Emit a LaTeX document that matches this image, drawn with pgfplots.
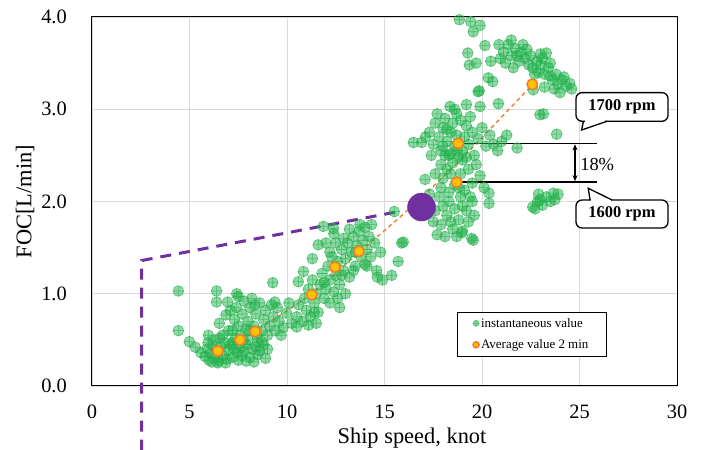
\documentclass[border=0pt]{standalone}
\usepackage{pgfplots}
\pgfplotsset{compat=1.18}
\usepackage{pgfplotstable}
\usepackage{fontspec}
\setmainfont{Liberation Serif}
\usetikzlibrary{arrows.meta}
\definecolor{ggreen}{RGB}{34,177,76}
\definecolor{gorange}{RGB}{237,125,49}
\definecolor{ggold}{RGB}{255,192,0}
\definecolor{gpurple}{RGB}{112,48,160}
\definecolor{ggrid}{RGB}{217,217,217}

\pgfplotstableread{
x y
4.43 1.03
4.43 0.60
4.99 0.48
5.30 0.42
5.59 0.36
5.97 0.55
6.39 1.03
6.39 0.91
6.96 0.91
7.42 1.00
6.53 0.68
6.87 0.77
9.27 1.12
10.24 0.68
9.98 0.79
10.10 0.90
9.38 0.91
10.58 1.13
5.80 0.32
5.90 0.40
6.00 0.28
6.10 0.35
6.20 0.44
6.30 0.30
6.40 0.38
6.50 0.27
6.60 0.42
6.70 0.33
6.80 0.47
6.90 0.29
7.00 0.38
7.10 0.45
7.20 0.31
6.25 0.50
6.55 0.52
5.95 0.47
7.30 0.40
6.45 0.25
6.85 0.25
7.50 0.28
7.70 0.33
7.90 0.27
8.10 0.31
8.30 0.26
8.50 0.34
8.20 0.40
7.60 0.42
7.35 0.52
7.20 0.60
7.30 0.72
7.40 0.85
7.50 0.65
7.60 0.55
7.70 0.78
7.80 0.92
7.90 0.62
8.00 0.50
8.00 0.70
8.10 0.85
8.20 0.95
8.30 0.65
8.40 0.78
8.50 0.48
8.60 0.90
8.70 0.60
8.80 0.72
8.90 0.82
9.00 0.55
7.50 0.97
7.90 0.45
8.60 0.38
8.80 0.45
9.10 0.65
9.30 0.75
9.40 0.60
9.60 0.70
9.20 0.88
9.50 0.85
9.70 0.55
9.00 0.40
8.90 0.30
7.00 0.60
7.10 0.82
8.35 0.88
9.80 0.63
7.75 0.50
8.45 0.55
8.05 0.60
7.45 0.36
6.15 0.26
7.80 0.38
8.40 0.42
7.20 0.47
6.70 0.55
8.70 0.48
10.50 0.75
10.60 0.88
10.80 0.70
10.90 0.95
11.00 0.82
11.10 1.05
11.20 0.75
11.30 1.15
11.40 0.90
11.50 1.00
11.60 0.80
11.70 1.10
11.80 1.22
11.90 0.95
12.00 1.05
12.10 1.30
12.20 1.15
12.30 1.40
12.40 1.02
12.50 1.20
12.60 1.35
12.70 1.10
12.80 1.48
12.90 1.25
13.00 1.38
13.10 1.55
13.20 1.18
13.30 1.45
13.40 1.62
13.50 1.30
13.60 1.52
13.70 1.68
13.80 1.40
13.90 1.58
14.00 1.32
14.10 1.48
14.20 1.62
14.30 1.40
14.50 1.55
14.60 1.25
14.80 1.45
14.90 1.15
12.00 1.55
12.40 1.65
11.86 1.73
12.38 1.71
13.74 1.75
14.34 1.75
11.60 1.53
10.84 1.24
11.10 0.66
10.50 0.64
14.63 1.18
15.37 1.20
15.70 1.35
15.88 1.55
11.50 0.68
12.70 0.85
13.00 1.00
12.20 0.90
12.90 1.60
13.20 1.70
14.00 1.72
11.30 1.38
12.60 0.95
12.20 1.45
12.80 1.20
13.40 1.25
13.50 1.45
11.90 1.12
11.40 0.80
12.50 1.55
14.10 1.30
17.30 2.75
17.50 2.62
17.60 2.85
17.80 2.70
17.90 2.55
18.00 2.80
18.10 2.90
18.20 2.65
18.30 2.50
18.40 2.75
18.50 2.85
18.60 2.60
18.70 2.72
18.90 2.88
19.00 2.55
19.10 2.70
19.20 2.82
19.30 2.62
19.50 2.75
19.60 2.50
19.80 2.68
20.00 2.80
20.20 2.60
20.40 2.72
18.80 2.48
17.70 2.95
19.40 2.92
20.60 2.62
21.00 2.65
21.27 2.72
21.80 2.58
16.48 2.64
16.90 2.64
17.10 2.70
20.80 2.55
17.90 2.40
18.00 2.25
18.20 2.35
18.30 2.10
18.50 2.42
18.60 2.18
18.90 2.30
19.00 2.45
19.10 2.12
19.30 2.35
19.50 2.20
19.70 2.40
19.90 2.28
18.40 2.52
17.08 2.24
17.60 2.30
20.10 2.15
17.60 1.90
17.80 2.05
17.90 1.75
18.00 1.95
18.20 1.85
18.30 2.00
18.50 1.70
18.60 1.92
18.80 1.80
18.90 2.05
19.00 1.68
19.20 1.90
19.30 1.78
19.50 2.00
19.60 1.85
17.50 1.78
17.70 1.64
18.10 1.62
18.96 1.66
19.47 1.60
19.55 1.58
20.36 2.09
20.36 1.98
15.50 1.89
15.96 1.56
17.00 1.95
17.30 2.08
18.10 2.50
18.70 2.55
19.20 2.48
18.40 2.30
18.80 2.15
19.40 2.05
18.00 2.60
18.70 2.95
18.20 2.78
17.40 2.50
19.00 1.95
18.40 1.78
18.70 1.62
17.90 2.15
18.36 3.03
19.20 3.05
19.90 3.03
19.80 3.19
20.84 3.06
18.60 3.00
22.60 1.94
22.72 1.92
22.85 2.00
22.97 2.02
23.10 1.96
23.30 2.05
23.50 2.00
23.66 2.09
23.74 2.02
23.90 2.08
22.90 2.08
22.97 2.94
23.83 2.73
18.84 3.97
19.42 3.95
19.90 3.91
19.55 3.84
20.15 3.69
19.27 3.61
19.35 3.48
19.70 3.50
20.45 3.52
20.32 3.34
20.55 3.30
19.86 3.20
23.15 2.95
20.87 3.70
21.10 3.62
21.35 3.70
21.50 3.58
21.70 3.66
21.90 3.52
22.00 3.62
22.20 3.55
22.40 3.48
21.20 3.50
21.60 3.45
22.10 3.70
20.95 3.55
21.80 3.58
22.50 3.58
22.60 3.45
22.80 3.52
22.90 3.40
23.00 3.48
23.20 3.38
23.30 3.61
23.40 3.45
23.50 3.36
22.70 3.38
23.10 3.55
23.60 3.32
23.80 3.38
23.90 3.27
24.10 3.32
24.30 3.25
24.50 3.28
24.60 3.22
23.70 3.22
22.63 3.21
23.20 3.24
24.00 3.18
21.50 3.75
22.30 3.65
23.00 3.60
23.50 3.50
24.20 3.35
}\inst

\pgfplotstableread{
x y
6.45 0.38
7.59 0.50
8.37 0.59
11.27 0.99
12.46 1.29
13.69 1.46
18.78 2.63
18.70 2.21
22.58 3.27
}\avg

\begin{document}
\begin{tikzpicture}
\path[use as bounding box] (-92bp,-64bp) rectangle (609bp,386bp);
\begin{axis}[
  at={(0,0)}, anchor=south west,
  scale only axis, width=585bp, height=369bp,
  xmin=0, xmax=30, ymin=0, ymax=4,
  xtick={0,5,...,30}, ytick={0,1,2,3,4},
  grid=major, major grid style={ggrid, line width=0.75bp},
  axis line style={black, line width=1bp},
  major tick length=0pt,
  clip=false,
  /pgf/number format/assume math mode=true,
  tick label style={font=\fontsize{20.5}{24}\selectfont},
  y tick label style={/pgf/number format/fixed, /pgf/number format/fixed zerofill, /pgf/number format/precision=1, anchor=east, inner sep=0pt, xshift=-25bp},
  x tick label style={anchor=base, yshift=-32bp},
  xlabel={Ship speed, knot},
  ylabel={FOC[L/min]},
  label style={font=\fontsize{22.5}{26}\selectfont},
  xlabel style={at={(axis description cs:0.547,-0.1545)}, anchor=base},
  ylabel style={at={(axis description cs:-0.1145,0.5)}, anchor=center},
  legend image code/.code={\draw[mark repeat=1,#1,mark size=3bp] plot coordinates {(0bp,0bp)};},
  legend cell align=left,
  legend style={at={(rel axis cs:0.6234,0.2014)}, anchor=north west, draw=black, line width=0.8bp,
    font=\fontsize{13}{15}\selectfont, inner xsep=16bp, inner ysep=4bp, row sep=7bp,
    /tikz/every even column/.append style={column sep=1bp}},
]
\addplot[only marks, mark=oplus*, mark size=5.4bp,
  mark options={fill=ggreen, fill opacity=0.5, draw=ggreen, draw opacity=0.7, line width=0.6bp}]
  table[x=x,y=y] {\inst};
\addlegendentry{instantaneous value}

\addplot[forget plot, gorange, line width=1.4bp, dash pattern=on 4bp off 3.5bp, smooth, tension=0.4]
  coordinates {(6.2,0.35) (8.4,0.60) (11.27,1.00) (13.7,1.45) (16.0,1.87) (18.75,2.42) (22.6,3.27)};

\addplot[forget plot, gpurple, line width=3bp, dash pattern=on 11bp off 8bp]
  coordinates {(2.55,-0.70) (2.55,1.36) (15.7,1.89)};
\addplot[forget plot, only marks, mark=*, mark size=14bp, mark options={fill=gpurple, draw=gpurple}]
  coordinates {(16.9,1.94)};

\draw[black, line width=1.3bp] (axis cs:19.05,2.63) -- (axis cs:25.88,2.63);
\draw[black, line width=1.3bp] (axis cs:18.97,2.21) -- (axis cs:25.88,2.21);
\draw[line width=1.3bp, {Stealth[length=6bp,width=5bp]}-{Stealth[length=6bp,width=5bp]}] (axis cs:24.77,2.62) -- (axis cs:24.77,2.22);
\node[anchor=west, font=\fontsize{18.5}{20}\selectfont, inner sep=0pt] at (axis cs:25.03,2.40) {18\%};

\draw[line width=1.3bp, rounded corners=6bp, fill=white] (axis cs:24.82,2.87) rectangle (axis cs:29.54,3.18);
\draw[white, line width=2.2bp] (axis cs:25.26,2.87) -- (axis cs:26.33,2.87);
\draw[line width=1.3bp, line join=miter] (axis cs:25.20,2.87) -- (axis cs:25.11,2.775) -- (axis cs:26.41,2.87);
\node[font=\bfseries\fontsize{16.5}{18}\selectfont] at (axis cs:27.18,3.025) {1700 rpm};

\draw[line width=1.3bp, rounded corners=6bp, fill=white] (axis cs:24.82,1.713) rectangle (axis cs:29.54,2.016);
\draw[white, line width=2.2bp] (axis cs:25.60,2.016) -- (axis cs:26.59,2.016);
\draw[line width=1.3bp, line join=miter] (axis cs:25.54,2.016) -- (axis cs:25.45,2.143) -- (axis cs:26.67,2.016);
\node[font=\bfseries\fontsize{16.5}{18}\selectfont] at (axis cs:27.18,1.864) {1600 rpm};

\addplot[only marks, mark=*, mark size=5.3bp, mark options={fill=ggold, draw=gorange, line width=1.5bp}]
  table[x=x,y=y] {\avg};
\addlegendentry{Average value 2 min}
\end{axis}
\end{tikzpicture}
\end{document}
